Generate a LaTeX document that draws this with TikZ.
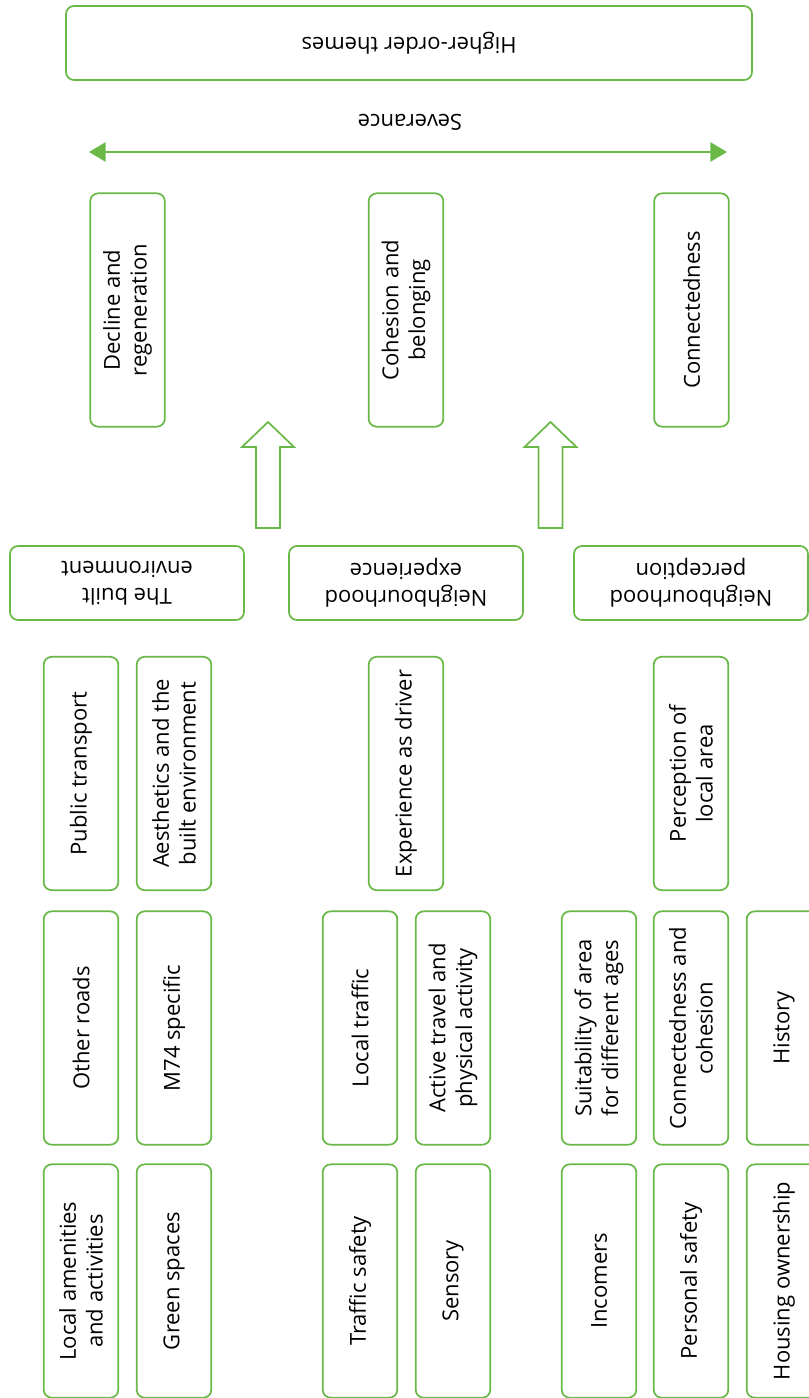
\documentclass[tikz,border=0pt]{standalone}
\usepackage{fontspec}
\setmainfont{Open Sans}
\usetikzlibrary{arrows.meta}
\definecolor{themegreen}{RGB}{106,185,72}

\begin{document}
\begin{tikzpicture}[x=0.75pt, y=-0.75pt,
    box/.style = {draw=themegreen, line width=1.3pt, rounded corners=6pt, align=center, inner sep=0pt, font=\fontsize{16.5pt}{20pt}\selectfont},
    vbox/.style = {box, rotate=90, minimum width=175pt, minimum height=56pt},
    hbox/.style = {box, rotate=180, minimum width=175.5pt, minimum height=55.5pt},
    hollow/.style = {draw=themegreen, line width=1.3pt}]
            \useasboundingbox (0,0) rectangle (809,1398);

            \node[box, rotate=180, minimum width=514.5pt, minimum height=55.5pt] (top) at (409,43) {Higher-order themes};
            \node[rotate=180, font=\fontsize{16.5pt}{20pt}\selectfont] (sev) at (410,122) {Severance};
            \coordinate (sevL) at (89,152);
            \coordinate (sevR) at (727,152);
            \path[arrows={Triangle[length=12.5pt,width=14.5pt]-Triangle[length=12.5pt,width=14.5pt]}, color=themegreen, line width=1.4pt] (sevL) edge (sevR);

            % higher-order themes
            \node[vbox] (decline) at (127.5,310) {Decline and\\regeneration};
            \node[vbox] (cohesion) at (406,310) {Cohesion and\\belonging};
            \node[vbox] (connect) at (691.5,310) {Connectedness};

            \draw[hollow] (268,422) -- ++(26,25) -- ++(-14,0) -- ++(0,81) -- ++(-24,0) -- ++(0,-81) -- ++(-14,0) -- cycle;
            \draw[hollow] (550.5,422) -- ++(26,25) -- ++(-14,0) -- ++(0,81) -- ++(-24,0) -- ++(0,-81) -- ++(-14,0) -- cycle;

            % themes
            \node[hbox] (built) at (127,583) {The built\\environment};
            \node[hbox] (experience) at (406,583) {Neighbourhood\\experience};
            \node[hbox] (perception) at (691,583) {Neighbourhood\\perception};

            % subthemes
            \node[vbox] (transport) at (81,773.5) {Public transport};
            \node[vbox] (aesthetics) at (174,773.5) {Aesthetics and the\\built environment};
            \node[vbox] (driver) at (406,773.5) {Experience as driver};
            \node[vbox] (local) at (691,773.5) {Perception of\\local area};

            \node[vbox] (roads) at (81,1028) {Other roads};
            \node[vbox] (m74) at (174,1028) {M74 specific};
            \node[vbox] (traffic) at (360,1028) {Local traffic};
            \node[vbox] (active) at (453,1028) {Active travel and\\physical activity};
            \node[vbox] (ages) at (599,1028) {Suitability of area\\for different ages};
            \node[vbox] (conncoh) at (691,1028) {Connectedness and\\cohesion};
            \node[vbox] (history) at (784,1028) {History};

            \node[vbox] (amenities) at (81,1281) {Local amenities\\and activities};
            \node[vbox] (green) at (174,1281) {Green spaces};
            \node[vbox] (tsafety) at (360,1281) {Traffic safety};
            \node[vbox] (sensory) at (453,1281) {Sensory};
            \node[vbox] (incomers) at (599,1281) {Incomers};
            \node[vbox] (psafety) at (691,1281) {Personal safety};
            \node[vbox] (housing) at (784,1281) {Housing ownership};
        \end{tikzpicture}
\end{document}
